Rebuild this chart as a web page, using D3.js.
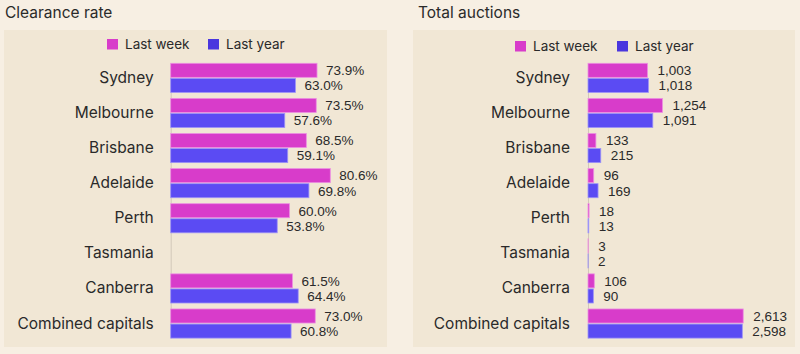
<!DOCTYPE html>
<html>
<head>
<meta charset="utf-8">
<script src="https://cdn.jsdelivr.net/npm/d3@7"></script>
<style>
  body { margin: 0; background: #f7efe3; }
  svg { display: block; font-family: Inter, "Liberation Sans", sans-serif; }
</style>
</head>
<body>
<svg id="chart" width="800" height="354"></svg>
<script>
// Data
const cities = ["Sydney", "Melbourne", "Brisbane", "Adelaide", "Perth", "Tasmania", "Canberra", "Combined capitals"];
const clearanceLastWeek = [73.9, 73.5, 68.5, 80.6, 60.0, null, 61.5, 73.0];
const clearanceLastYear = [63.0, 57.6, 59.1, 69.8, 53.8, null, 64.4, 60.8];
const auctionsLastWeek = [1003, 1254, 133, 96, 18, 3, 106, 2613];
const auctionsLastYear = [1018, 1091, 215, 169, 13, 2, 90, 2598];
const seriesNames = ["Last week", "Last year"];

const colors = { "Last week": "#d83cca", "Last year": "#5b4bf3" };
const legendColors = { "Last week": "#d83cca", "Last year": "#4a36de" };
const strokes = { "Last week": "#ec8fe2", "Last year": "#9d93f7" };

const svg = d3.select("#chart");

function drawPanel(opt) {
    const g = svg.append("g");

    // panel background
    g.append("rect")
        .attr("x", opt.panel[0]).attr("y", 30)
        .attr("width", opt.panel[1] - opt.panel[0]).attr("height", 317)
        .attr("fill", "#f1e7d5");

    // title
    g.append("text")
        .attr("x", opt.titleX).attr("y", 18)
        .attr("font-size", 15.5)
        .attr("fill", "#2a2a2a")
        .text(opt.title);

    // legend
    const legend = g.selectAll(".legend")
        .data(seriesNames)
        .enter()
        .append("g")
        .attr("transform", (d, i) => `translate(${opt.legendX[i]},${opt.legendY})`);
    legend.append("rect")
        .attr("width", 11).attr("height", 10.5)
        .attr("fill", d => legendColors[d]);
    legend.append("text")
        .attr("x", 18).attr("y", 5.5)
        .attr("dy", "0.35em")
        .attr("font-size", 13.5)
        .attr("fill", "#2a2a2a")
        .text(d => d);

    // scales
    const y = d3.scaleBand()
        .domain(cities)
        .range([63.3, 338.1])
        .paddingInner(0.17)
        .paddingOuter(0);
    const ySub = d3.scaleBand()
        .domain(seriesNames)
        .range([0, y.bandwidth()])
        .paddingInner(0.07);
    const x = d3.scaleLinear()
        .domain(opt.domain)
        .range(opt.range);

    const rows = cities.map((c, i) => ({
        city: c,
        values: [
            { key: "Last week", value: opt.lw[i] },
            { key: "Last year", value: opt.ly[i] }
        ]
    }));

    // axis (category labels + thin baseline)
    const axis = g.append("g")
        .attr("transform", `translate(${opt.range[0]},0)`)
        .call(d3.axisLeft(y).tickSize(0).tickSizeOuter(0).tickPadding(opt.pad));
    axis.select(".domain").attr("stroke", "#d2c8ba").attr("stroke-width", 1);
    axis.selectAll("text")
        .attr("font-size", 15.5)
        .attr("font-family", "Inter, 'Liberation Sans', sans-serif")
        .attr("fill", "#2a2a2a");

    const groups = g.selectAll(".row")
        .data(rows)
        .enter()
        .append("g")
        .attr("transform", d => `translate(0,${y(d.city)})`);

    const cells = groups.selectAll("g")
        .data(d => d.values.filter(v => v.value !== null))
        .enter()
        .append("g");

    cells.append("rect")
        .attr("x", x(0))
        .attr("y", d => ySub(d.key))
        .attr("width", d => Math.max(0, x(d.value) - x(0)))
        .attr("height", ySub.bandwidth())
        .attr("fill", d => colors[d.key])
        .attr("stroke", d => strokes[d.key])
        .attr("stroke-width", 0.8);

    cells.append("text")
        .attr("x", d => x(d.value) + opt.labelGap)
        .attr("y", d => ySub(d.key) + ySub.bandwidth() / 2)
        .attr("dy", "0.36em")
        .attr("font-size", 13.5)
        .attr("font-family", "'Liberation Sans', Arial, sans-serif")
        .attr("fill", "#2a2a2a")
        .text(d => opt.fmt(d.value));
}

drawPanel({
    title: "Clearance rate",
    titleX: 5,
    panel: [4, 387],
    legendX: [107, 208],
    legendY: 39,
    domain: [0, 100],
    range: [170.7, 368.7],
    pad: 17,
    labelGap: 9,
    lw: clearanceLastWeek,
    ly: clearanceLastYear,
    fmt: d => d3.format(".1f")(d) + "%"
});

drawPanel({
    title: "Total auctions",
    titleX: 418,
    panel: [413, 795],
    legendX: [515, 617],
    legendY: 41,
    domain: [0, 1000],
    range: [588, 647.4],
    pad: 18,
    labelGap: 10,
    lw: auctionsLastWeek,
    ly: auctionsLastYear,
    fmt: d3.format(",")
});
</script>
</body>
</html>
